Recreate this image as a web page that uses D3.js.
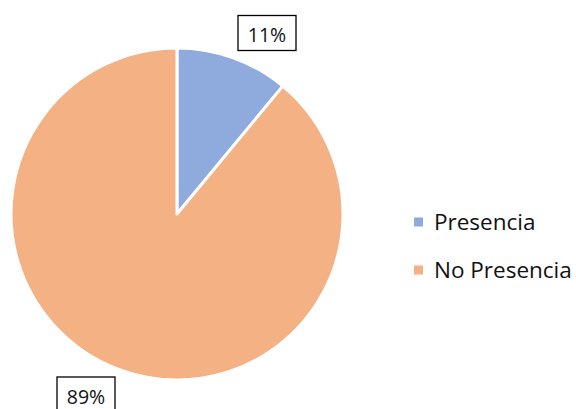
<!DOCTYPE html>
<html><head><meta charset="utf-8">
<script src="https://cdn.jsdelivr.net/npm/d3@7"></script>
<style>body{margin:0;background:#fff}svg{display:block}</style>
</head><body>
<svg id="c" width="576" height="409"></svg>
<script>
const categories = ["Presencia", "No Presencia"];
const values = [11, 89];
const labels = ["11%", "89%"];
const colors = ["#8FAADC", "#F4B183"];

const svg = d3.select("#c");
const cx = 177, cy = 214, r = 166;
const pie = d3.pie().sort(null)(values);
const arc = d3.arc().innerRadius(0).outerRadius(r);
const g = svg.append("g").attr("transform", `translate(${cx},${cy})`);
g.selectAll("path").data(pie).join("path")
  .attr("d", arc).attr("fill", (d,i)=>colors[i])
  .attr("stroke", "#fff").attr("stroke-width", 3).attr("stroke-linejoin","round");

const font = "'Open Sans', sans-serif";
const labelBox = [[238, 15.5], [57, 377]];
labels.forEach((t,i)=>{
  const [x,y] = labelBox[i];
  svg.append("rect").attr("x", x).attr("y", y).attr("width", 58).attr("height", 35)
    .attr("fill","#fff").attr("stroke","#000").attr("stroke-width",1.3);
  svg.append("text").attr("x", x+29).attr("y", y+26.5).attr("text-anchor","middle")
    .attr("font-family", font).attr("font-size", 19.5).attr("fill","#111").text(t);
});

const leg = svg.append("g");
categories.forEach((c,i)=>{
  const y = 222 + i*48;
  leg.append("rect").attr("x", 414).attr("y", y-4.5).attr("width", 9).attr("height", 9).attr("fill", colors[i]);
  leg.append("text").attr("x", 434).attr("y", y+8).attr("font-family", font)
    .attr("font-size", 22.5).attr("fill","#111").text(c);
});
</script>
</body></html>
